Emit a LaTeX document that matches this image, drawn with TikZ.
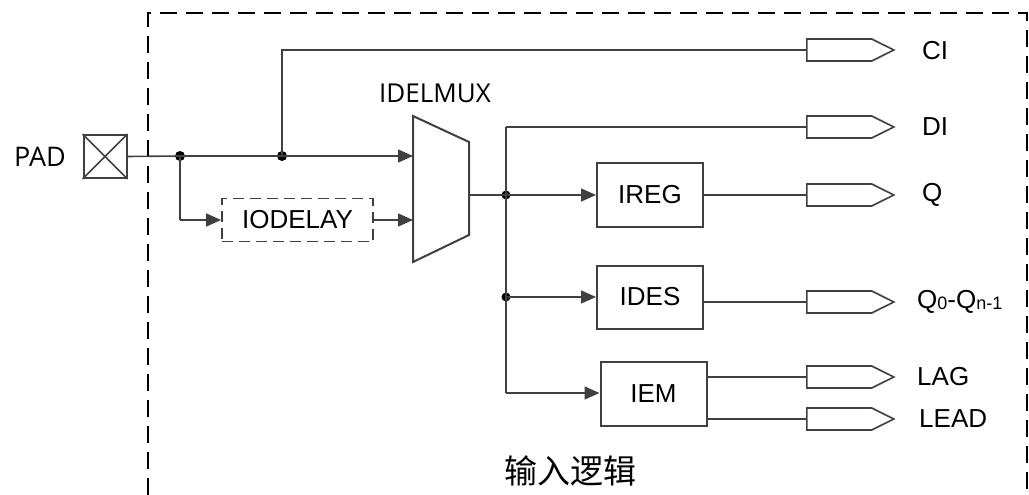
\documentclass[tikz,border=0pt]{standalone}
\usepackage{fontspec}
\setmainfont{Liberation Sans}
\newfontfamily\padfont{Open Sans}
\newfontfamily\cjk{Noto Sans CJK SC}
\usetikzlibrary{arrows.meta,shapes.symbols}
\definecolor{lc}{HTML}{404040}
\newcommand{\lbl}{\fontsize{26}{30}\selectfont}
\begin{document}
\begin{tikzpicture}[x=1pt,y=-1pt,
  wire/.style={draw=lc, line width=1.6pt},
  arr/.style={wire, -{Triangle[length=15pt,width=13pt]}},
  blk/.style={draw=lc, line width=2pt, minimum width=106pt, minimum height=64pt, inner sep=0pt, font=\lbl},
  dlybox/.style={draw=lc, line width=1.8pt, dash pattern=on 11pt off 6pt, minimum width=151pt, minimum height=43pt, inner sep=0pt, font=\lbl},
  obuf/.style={signal, signal to=east, signal from=nowhere, draw=lc, line width=1.6pt, minimum width=87pt, minimum height=22pt, inner sep=0pt, signal pointer angle=53, anchor=west},
  olbl/.style={anchor=west, inner sep=0pt, font=\lbl},
  jdot/.style={circle, fill=black, inner sep=0pt, minimum size=10pt},
]
\useasboundingbox (0,0) rectangle (1029,495);
% outer dashed frame
\draw[black, line width=2pt, dash pattern=on 17pt off 9pt] (148,495) -- (148,13) -- (1027,13) -- (1027,495);

% PAD
\node[font=\padfont\fontsize{27}{30}\selectfont, inner sep=0pt] (padlbl) at (40,157) {PAD};
\node[draw=lc, line width=2pt, minimum size=43pt, inner sep=0pt] (pad) at (105,156.5) {};
\draw[lc, line width=1.6pt] (pad.north west) -- (pad.south east) (pad.north east) -- (pad.south west);

% mux
\coordinate (mtl) at (413,116);
\coordinate (mtr) at (469,142);
\coordinate (mbr) at (469,235);
\coordinate (mbl) at (413,262);
\draw[lc, line width=2pt, line join=miter] (mtl) -- (mtr) -- (mbr) -- (mbl) -- cycle;
\coordinate (min1) at (413,156);
\coordinate (min2) at (413,220);
\coordinate (mout) at (469,195);
\node[font=\padfont\fontsize{26}{30}\selectfont, inner sep=0pt] (muxlbl) at (435,93) {IDELMUX};

% blocks
\node[dlybox] (dly) at (297.5,220) {IODELAY};
\node[blk] (ireg) at (650,195) {IREG};
\node[blk, minimum height=63pt] (ides) at (650,297) {IDES};
\node[blk] (iem) at (653.5,394) {IEM};

% junctions and corners
\node[jdot] (j1) at (180,156) {};
\node[jdot] (j2) at (282,156) {};
\node[jdot, minimum size=9pt] (j3) at (506,195) {};
\node[jdot, minimum size=9pt] (j4) at (506,297) {};
\coordinate (c1) at (180,220);
\coordinate (c2) at (282,50);
\coordinate (c3) at (506,127);
\coordinate (c4) at (506,393);

% output buffers
\node[obuf] (bci) at (806,50) {};
\node[obuf] (bdi) at (806,127) {};
\node[obuf] (bq) at (806,195) {};
\node[obuf] (bqn) at (806,302) {};
\node[obuf] (blag) at (806,377) {};
\node[obuf] (blead) at (806,419) {};

\node[olbl] (lci) at (922,51) {CI};
\node[olbl] (ldi) at (922,127) {DI};
\node[olbl] (lq) at (922,195) {Q};
\node[olbl] (lqn) at (917,302) {Q\raisebox{-1pt}{\fontsize{18}{18}\selectfont 0}-Q\raisebox{-1pt}{\fontsize{18}{18}\selectfont n-1}};
\node[olbl] (llag) at (917,377) {LAG};
\node[olbl] (llead) at (919,419) {LEAD};

% wires
\draw[wire] (pad.east) -- (j1.center);
\draw[arr] (j1.center) -- (min1);
\draw[wire] (j1.center) -- (c1);
\draw[arr] (c1) -- (dly.west);
\draw[arr] (dly.east) -- (min2);
\draw[wire] (j2.center) -- (c2) -- (bci.west);
\draw[wire] (mout) -- (j3.center);
\draw[arr] (j3.center) -- (ireg.west);
\draw[wire] (c3) -- (c4);
\draw[wire] (c3) -- (bdi.west);
\draw[arr] (j4.center) -- (ides.west);
\draw[arr] (c4) -- (iem.west |- c4);
\draw[wire] (ireg.east) -- (bq.west);
\draw[wire] (ides.east |- bqn.west) -- (bqn.west);
\draw[wire] (iem.east |- blag.west) -- (blag.west);
\draw[wire] (iem.east |- blead.west) -- (blead.west);

% bottom title
\node[font=\cjk\fontsize{33}{36}\selectfont, inner sep=0pt] (title) at (570,471) {输入逻辑};
\end{tikzpicture}
\end{document}
